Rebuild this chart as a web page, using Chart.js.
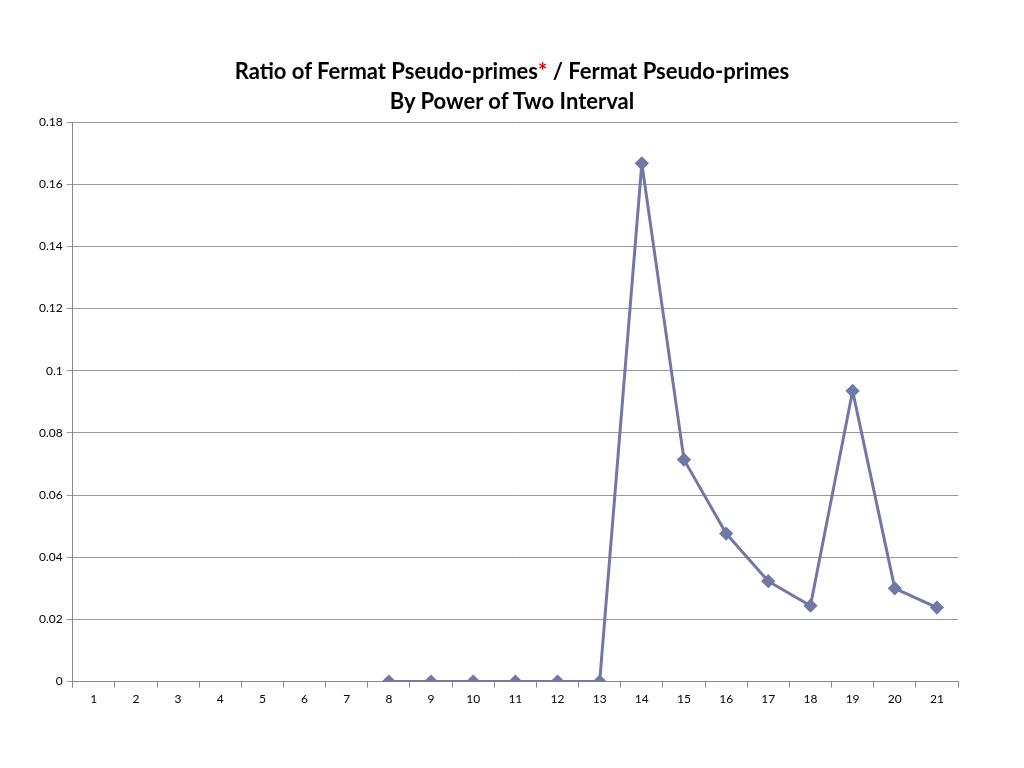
<!DOCTYPE html>
<html><head><meta charset="utf-8">
<script src="https://cdn.jsdelivr.net/npm/chart.js@4"></script>
<style>
html,body{margin:0;padding:0;background:#fff;}
#wrap{position:relative;width:1024px;height:768px;}
#title{position:absolute;top:56px;left:0;width:1024px;text-align:center;font-family:Lato,"Open Sans",sans-serif;font-weight:bold;font-size:22px;line-height:30px;color:#000;}
#title .r{color:#e00000;}
canvas{position:absolute;top:0;left:0;}
</style></head><body>
<div id="wrap">
<canvas id="c" width="1024" height="768"></canvas>
<div id="title">Ratio of Fermat Pseudo-primes<span class="r">*</span> / Fermat Pseudo-primes<br>By Power of Two Interval</div>
</div>
<script>
const categories = ["1","2","3","4","5","6","7","8","9","10","11","12","13","14","15","16","17","18","19","20","21"];
const ratios = [null,null,null,null,null,null,null,0,0,0,0,0,0,0.1667,0.0714,0.0476,0.0323,0.0244,0.0935,0.0300,0.0238];
const yTicks = [0,0.02,0.04,0.06,0.08,0.1,0.12,0.14,0.16,0.18];
const col = '#7178A6';
new Chart(document.getElementById('c'), {
  type: 'line',
  data: { labels: categories, datasets: [{ data: ratios, borderColor: col, backgroundColor: col, borderWidth: 3, borderJoinStyle: 'round', pointStyle: 'rectRot', pointRadius: 5, pointBackgroundColor: col, pointBorderColor: col, tension: 0, spanGaps: false }] },
  options: {
    responsive: false, animation: false,
    layout: { padding: { top: 122, left: 35, right: 66, bottom: 58 } },
    plugins: { legend: { display: false }, tooltip: { enabled: false } },
    scales: {
      x: { offset: true, grid: { offset: true, drawOnChartArea: false, drawTicks: true, tickLength: 6, color: '#888' }, border: { color: '#888' },
           ticks: { color: '#000', font: { family: 'Lato', size: 12 }, padding: 4 } },
      y: { min: 0, max: 0.18, afterBuildTicks: a => { a.ticks = yTicks.map(v => ({ value: v })); },
           grid: { color: '#999', tickLength: 6 }, border: { color: '#888' },
           ticks: { color: '#000', font: { family: 'Lato', size: 12 }, padding: 4, callback: v => String(+v.toFixed(2)) } }
    }
  }
});
</script>
</body></html>
